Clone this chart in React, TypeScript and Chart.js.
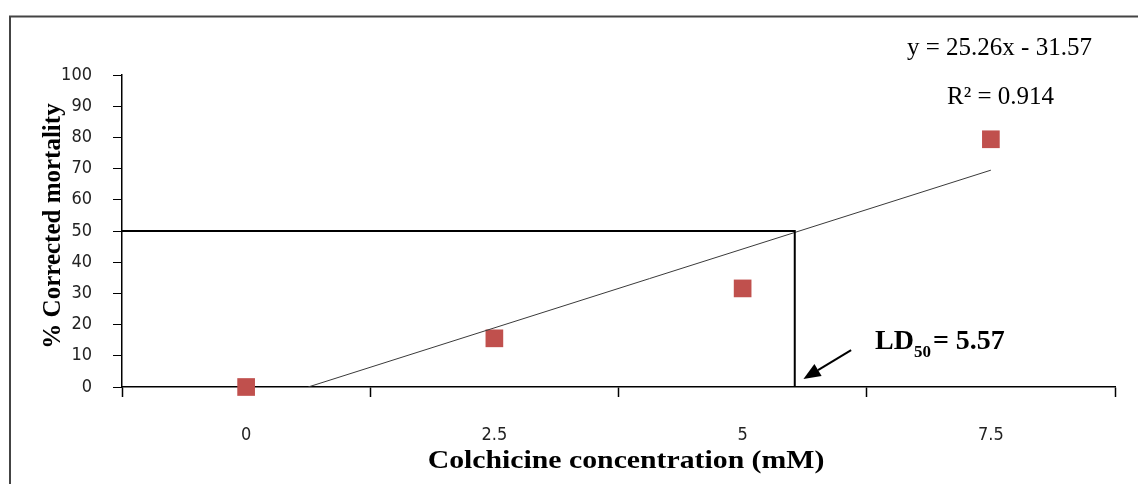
import React, { useEffect, useRef } from "react";
import { Chart, registerables } from "chart.js";

Chart.register(...registerables);

// Categories (concentration, mM) placed at positions 1..4
const categories = ["0", "2.5", "5", "7.5"];
const categoryPos = [1, 2, 3, 4];
// % corrected mortality
const mortality = [0, 15.6, 31.6, 79.4];
// Linear trendline y = 25.26x - 31.57 (endpoints as drawn)
const trendX = [1.25, 4];
const trendY = [0, 69.5];
// LD50 reference lines
const ld50Pos = 3.21;
const ld50Level = 50;
// Arrow pointing to LD50 (tail -> tip, data units)
const arrowX = [3.437, 3.245];
const arrowY = [11.8, 2.6];
// Y ticks
const yTicks = [0, 10, 20, 30, 40, 50, 60, 70, 80, 90, 100];
// Texts
const equationText = "y = 25.26x - 31.57";
const r2Text = "R² = 0.914";
const yTitle = "% Corrected mortality";
const xTitle = "Colchicine concentration (mM)";

const SERIF = "'Liberation Serif', 'Times New Roman', serif";
const NARROW = "'Liberation Sans Narrow', 'DejaVu Sans Condensed', sans-serif";

const annotations = {
  id: "annotations",
  afterDraw(chart: any) {
    const ctx = chart.ctx;
    const xs = chart.scales.x;
    const ys = chart.scales.y;
    ctx.save();
    // frame
    ctx.strokeStyle = "#444";
    ctx.lineWidth = 2;
    ctx.strokeRect(10, 16.5, 1200, 600);

    ctx.fillStyle = "#000";
    // y title
    ctx.save();
    ctx.translate(59.5, 226);
    ctx.rotate(-Math.PI / 2);
    ctx.font = `bold 25px ${SERIF}`;
    ctx.textAlign = "center";
    ctx.textBaseline = "alphabetic";
    ctx.fillText(yTitle, 0, 0);
    ctx.restore();

    // x title
    ctx.save();
    ctx.translate(626, 468);
    ctx.scale(1.19, 1);
    ctx.font = `bold 25px ${SERIF}`;
    ctx.textAlign = "center";
    ctx.textBaseline = "alphabetic";
    ctx.fillText(xTitle, 0, 0);
    ctx.restore();

    // equation
    ctx.font = `25px ${SERIF}`;
    ctx.textAlign = "left";
    ctx.textBaseline = "alphabetic";
    ctx.fillText(equationText, 907, 55);
    ctx.fillText(r2Text, 947, 104);

    // LD50 label
    let x = 875;
    ctx.font = `bold 28px ${SERIF}`;
    ctx.fillText("LD", x, 348.5);
    x += ctx.measureText("LD").width;
    ctx.font = `bold 17px ${SERIF}`;
    ctx.fillText("50", x, 357);
    x += ctx.measureText("50").width + 2;
    ctx.font = `bold 28px ${SERIF}`;
    ctx.fillText("= 5.57", x, 348.5);

    // arrow
    const tx = xs.getPixelForValue(arrowX[0]);
    const ty = ys.getPixelForValue(arrowY[0]);
    const hx = xs.getPixelForValue(arrowX[1]);
    const hy = ys.getPixelForValue(arrowY[1]);
    const ang = Math.atan2(hy - ty, hx - tx);
    const headLen = 17;
    const headW = 7;
    const bx = hx - headLen * Math.cos(ang);
    const by = hy - headLen * Math.sin(ang);
    ctx.strokeStyle = "#000";
    ctx.lineWidth = 2;
    ctx.beginPath();
    ctx.moveTo(tx, ty);
    ctx.lineTo(bx, by);
    ctx.stroke();
    ctx.beginPath();
    ctx.moveTo(hx, hy);
    ctx.lineTo(bx + headW * Math.sin(ang), by - headW * Math.cos(ang));
    ctx.lineTo(bx - headW * Math.sin(ang), by + headW * Math.cos(ang));
    ctx.closePath();
    ctx.fill();
    ctx.restore();
  },
};

export default function App() {
  const ref = useRef<HTMLCanvasElement | null>(null);
  useEffect(() => {
    if (!ref.current) return;
    const chart = new Chart(ref.current, {
      type: "scatter",
      data: {
        datasets: [
          {
            label: "Reference",
            data: [
              { x: 0.5, y: ld50Level },
              { x: ld50Pos, y: ld50Level },
              { x: ld50Pos, y: 0 },
            ],
            showLine: true,
            borderColor: "#000",
            borderWidth: 2,
            pointRadius: 0,
            fill: false,
          },
          {
            label: "Trend",
            data: trendX.map((v, i) => ({ x: v, y: trendY[i] })),
            showLine: true,
            borderColor: "#3a3a3a",
            borderWidth: 1,
            pointRadius: 0,
            fill: false,
          },
          {
            label: "Mortality",
            data: categoryPos.map((v, i) => ({ x: v, y: mortality[i] })),
            pointStyle: "rect",
            pointRadius: 12.5,
            pointBackgroundColor: "#C0504D",
            pointBorderWidth: 0,
            borderColor: "#C0504D",
            clip: false,
          },
        ],
      },
      options: {
        responsive: false,
        animation: false,
        layout: { padding: { left: 0, top: 75, right: 23, bottom: 0 } },
        plugins: { legend: { display: false }, tooltip: { enabled: false } },
        scales: {
          x: {
            type: "linear",
            min: 0.5,
            max: 4.5,
            afterFit: (s: any) => {
              s.height = 97;
              s.paddingLeft = 0;
              s.paddingRight = 0;
            },
            afterBuildTicks: (s: any) => {
              const t: any[] = [];
              for (let i = 0; i <= 8; i++) t.push({ value: 0.5 + i * 0.5 });
              s.ticks = t;
            },
            grid: {
              drawOnChartArea: false,
              drawTicks: true,
              tickLength: 10,
              tickWidth: 1.5,
              tickColor: (c: any) =>
                c.tick && Number.isInteger(c.tick.value) ? "rgba(0,0,0,0)" : "#000",
            },
            border: { display: true, color: "#000", width: 1.5 },
            ticks: {
              autoSkip: false,
              maxRotation: 0,
              padding: 28,
              color: "#222",
              font: { family: NARROW, size: 18 },
              callback: (v: any) => {
                const n = Number(v);
                if (!Number.isInteger(n)) return "";
                const idx = categoryPos.indexOf(n);
                return idx >= 0 ? categories[idx] : "";
              },
            },
          },
          y: {
            min: 0,
            max: 100,
            afterFit: (s: any) => {
              s.width = 122;
            },
            afterBuildTicks: (s: any) => {
              s.ticks = yTicks.map((v) => ({ value: v }));
            },
            grid: {
              drawOnChartArea: false,
              drawTicks: true,
              tickLength: 9,
              tickColor: "#000",
            },
            border: { display: true, color: "#000", width: 1.5 },
            ticks: {
              padding: 21,
              color: "#222",
              font: { family: NARROW, size: 18 },
            },
          },
        },
      },
      plugins: [annotations],
    });
    return () => chart.destroy();
  }, []);
  return (
    <div style={{ position: "absolute", left: 0, top: 0, width: 1138, height: 484, background: "#fff" }}>
      <canvas ref={ref} width={1138} height={484} />
    </div>
  );
}
